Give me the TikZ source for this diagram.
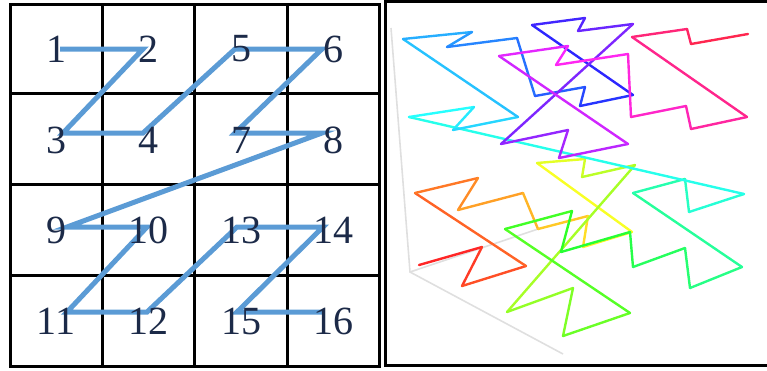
\documentclass[tikz,border=0pt]{standalone}
\usepackage{fontspec}
\setmainfont{Liberation Serif}
\usepackage{xcolor}

\definecolor{zblue}{RGB}{91,155,213}
\definecolor{digitnavy}{RGB}{28,42,72}

\tikzset{
  gridline/.style={line width=3pt,black},
  zpath/.style={line width=5pt,zblue},
  cellnum/.style={text=digitnavy,font=\fontsize{40}{42}\selectfont,inner sep=0pt},
  axisline/.style={line width=1.6pt,gray!25},
  curve3d/.style={line width=2.4pt,line cap=round,line join=round}
}

\begin{document}
\begin{tikzpicture}[x=1pt,y=-1pt]
  \useasboundingbox (0,0) rectangle (767,370);
  % left: 4x4 grid, 1 unit = 1 px of the screenshot
  \draw[gridline] (10,4) rectangle (379,366);
  \foreach \x in {102,194.5,287}
    {\draw[gridline] (\x,4) -- (\x,366);}
  \foreach \y in {93.5,184.5,275.5}
    {\draw[gridline] (10,\y) -- (379,\y);}
  % corners of the z path, in visiting order
  \foreach \k/\x/\y in {1/60/49,2/143/49,3/63/133,4/143/133,
      5/235/49,6/322/49,7/235/133,8/322/133,
      9/67/227,10/147/227,11/67/312,12/147/312,
      13/237/227,14/323/227,15/237/312,16/323/312}
    {\coordinate (p\k) at (\x,\y);}
  \draw[zpath] (p1) \foreach \k in {2,...,16}{ -- (p\k)};
  % cell numbers at the cell centres
  \foreach \k/\x/\y in {1/56/49,2/148/49,5/241/49,6/333/49,
      3/56/140,4/148/140,7/241/140,8/333/140,
      9/56/230,10/148/230,13/241/230,14/333/230,
      11/56/321,12/148/321,15/241/321,16/333/321}
    {\node[cellnum] (n\k) at (\x,\y) {\k};}

  % right: 3d z-order curve, 4x4x4 points
  \draw[line width=3pt] (385.5,1.5) rectangle (769,365.5);
  \coordinate (o) at (410,272);
  \coordinate (zt) at (391,28);
  \coordinate (yt) at (563,354);
  \coordinate (xt) at (538,229);
  \draw[axisline] (zt) -- (o) -- (yt);
  \draw[axisline] (o) -- (xt);
  \foreach \i/\x/\y in {0/419/265,1/482/247,2/462/286,3/526/266,
      4/415/193,5/478/178,6/458/210,7/523/193,
      8/538/229,9/588/216,10/583/247,11/632/232,
      12/537/163,13/585/159,14/582/177,15/635/165,
      16/507/312,17/573/288,18/563/336,19/630/313,
      20/505/229,21/572/211,22/561/252,23/630/232,
      24/633/267,25/685/248,26/690/288,27/742/267,
      28/633/193,29/685/179,30/689/212,31/744/194,
      32/409/117,33/474/107,34/453/130,35/518/117,
      36/403/39,37/472/32,38/447/47,39/517/38,
      40/535/96,41/585/87,42/580/106,43/633/95,
      44/532/25,45/585/18,46/578/31,47/633/24,
      48/501/144,49/568/130,50/559/158,51/628/144,
      52/499/56,53/568/46,54/556/65,55/628/54,
      56/631/117,57/686/106,58/691/129,59/747/117,
      60/632/37,61/687/29,62/691/44,63/748/34}
    {\coordinate (c\i) at (\x,\y);}
  % hue runs once round the circle along the curve
  \foreach \i in {0,...,62}{
    \pgfmathtruncatemacro\j{\i+1}
    \pgfmathsetmacro\h{\i*5.625}
    \definecolor{segcol}{Hsb}{\h,0.85,1}
    \draw[curve3d,segcol] (c\i) -- (c\j);
  }
\end{tikzpicture}
\end{document}
